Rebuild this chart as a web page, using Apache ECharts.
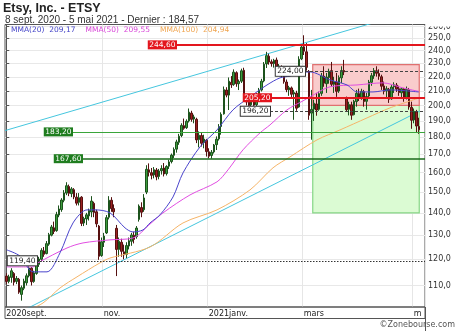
<!DOCTYPE html>
<html><head><meta charset="utf-8">
<script src="https://cdn.jsdelivr.net/npm/echarts@6/dist/echarts.min.js"></script>
<style>html,body{margin:0;padding:0;background:#fff}#c{width:460px;height:331px}</style>
</head><body><div id="c"></div>
<script>
// ---- price data (daily candles, 8 sept. 2020 -> 5 mai 2021) ----
const opens = [113.5,111.5,113.0,114.5,111.5,112.3,106.8,109.0,111.0,113.6,116.5,111.5,114.5,118.0,120.0,123.4,122.3,
126.2,130.0,133.2,132.0,139.0,141.5,146.0,149.5,152.8,149.2,151.2,147.5,145.0,147.5,135.4,137.2,138.6,140.4,144.5,140.5,134.0,121.5,
127.0,131.0,138.0,146.0,142.0,133.0,124.0,127.0,123.0,122.0,125.4,127.4,130.0,129.4,137.0,142.5,141.5,150.0,161.5,160.0,
158.8,161.4,158.0,161.0,162.5,159.5,163.5,166.0,169.5,173.0,177.0,181.0,187.0,185.8,190.0,195.0,191.2,191.0,178.6,181.0,176.8,178.2,
171.5,169.4,171.4,175.6,179.0,186.5,194.5,210.5,207.0,216.0,214.5,223.0,215.0,216.8,224.8,205.0,202.2,200.4,204.2,
200.5,206.6,210.5,217.0,229.6,235.6,231.2,229.8,232.6,223.6,227.6,221.2,216.2,210.6,212.0,207.8,208.4,199.0,233.5,
243.0,239.0,224.0,195.0,197.6,201.0,197.5,208.2,220.4,215.0,219.5,224.5,214.6,216.2,209.8,219.2,224.6,204.5,197.5,200.4,194.0,202.6,208.0,
205.5,209.4,202.8,206.4,216.0,220.6,224.4,222.4,220.0,213.4,209.8,211.0,204.5,212.8,214.0,211.4,208.6,211.2,205.5,210.8,
198.8,190.6,195.8,186.5];
const highs = [114.6,114.0,116.5,115.0,113.5,112.8,110.0,112.5,114.5,117.5,117.0,115.5,119.0,121.0,124.5,125.0,127.5,
131.0,134.5,136.0,140.5,143.5,147.0,151.0,155.0,153.8,152.5,152.0,149.5,149.5,148.0,138.2,140.0,142.0,148.0,145.3,141.5,134.5,129.0,
131.0,139.0,148.0,147.5,144.0,134.5,129.0,128.5,126.0,127.0,129.0,131.0,131.5,134.0,144.0,145.0,149.0,164.0,165.0,162.5,
163.0,162.5,162.0,164.0,165.2,164.0,167.0,170.5,174.0,178.5,182.0,188.5,191.5,191.0,198.0,196.5,194.0,192.0,183.5,182.5,181.5,179.0,
173.5,172.5,176.0,180.5,188.0,195.5,213.0,212.5,219.5,220.5,225.5,224.0,218.0,226.0,226.7,207.2,203.0,207.0,205.5,
208.5,212.0,218.5,231.0,239.0,237.5,233.0,233.5,234.5,229.5,228.5,223.0,218.0,213.5,213.0,210.6,210.0,235.5,244.6,
252.5,246.0,225.0,210.6,203.8,208.5,209.5,222.8,227.8,222.8,226.0,231.1,220.0,222.8,221.0,227.8,232.7,206.0,202.5,202.5,203.8,210.6,211.5,
211.4,210.6,208.5,217.7,222.8,226.5,227.8,225.5,221.5,216.5,213.2,212.0,214.0,216.0,215.5,213.5,212.5,212.0,213.0,212.0,
202.5,198.0,197.1,192.0];
const lows = [110.5,110.8,111.0,110.0,110.5,107.0,104.6,108.3,110.0,113.0,110.0,111.0,114.0,117.0,119.0,121.0,122.0,
125.5,129.5,130.5,131.5,138.0,140.5,145.0,148.5,148.0,147.5,146.5,143.5,143.5,134.0,134.0,134.5,136.5,138.0,138.0,133.5,119.8,121.0,
125.0,130.5,137.0,140.5,138.0,113.5,121.0,121.0,120.0,120.5,124.0,125.5,126.5,128.5,136.0,138.0,140.5,149.0,158.0,156.5,
157.0,156.0,156.5,159.0,158.0,158.5,162.0,165.0,168.0,171.0,175.5,180.0,184.5,185.0,189.0,189.5,188.5,176.5,174.0,174.5,173.5,168.8,
167.8,167.6,170.5,172.5,178.0,181.5,194.0,205.5,197.0,212.0,213.5,212.8,210.5,215.5,203.0,200.0,198.0,199.5,196.2,
199.5,205.0,209.5,216.0,226.5,229.0,227.5,226.8,222.0,222.0,219.5,215.0,209.0,206.5,205.5,190.7,196.5,198.5,232.5,
236.5,224.5,190.7,178.5,190.0,193.3,196.5,206.5,212.8,208.5,215.0,212.8,208.5,205.8,208.5,215.5,221.2,195.8,193.5,190.7,193.5,199.2,203.0,
203.8,199.2,197.2,205.5,213.5,218.5,220.1,217.8,210.6,207.5,204.5,201.7,203.8,208.5,209.2,206.5,205.5,202.5,204.0,197.2,
185.1,188.5,182.9,182.0];
const closes = [111.5,113.2,115.5,111.2,112.6,107.6,109.2,111.6,113.6,116.6,111.4,114.7,118.2,120.1,123.6,122.0,126.4,
130.2,133.6,131.6,139.2,141.8,146.1,149.6,153.2,149.4,151.6,147.6,144.6,147.2,135.2,137.4,139.1,141.1,145.6,140.2,135.0,121.2,127.2,
129.6,137.8,146.0,142.0,140.5,124.0,127.4,123.2,121.8,125.6,127.6,130.1,128.2,133.1,143.2,140.3,147.1,161.8,160.2,158.6,
161.6,157.8,160.9,162.2,159.3,163.3,165.8,169.6,172.8,177.2,180.6,187.2,185.4,189.8,195.6,191.0,192.5,178.4,181.2,176.4,178.9,171.6,
169.0,171.2,175.4,178.8,186.4,194.2,210.8,207.0,216.8,214.2,223.4,215.0,216.6,224.4,205.1,202.4,200.0,204.6,200.2,
206.6,210.4,216.8,229.4,236.0,231.0,229.8,232.4,223.4,227.8,221.0,216.4,210.8,212.2,207.6,208.8,198.2,233.2,242.8,
239.5,227.0,193.6,197.4,201.5,197.0,208.0,220.6,215.4,219.8,224.0,214.6,216.4,209.6,219.4,224.6,223.6,197.2,200.6,193.6,202.8,208.2,205.2,
209.6,202.6,206.0,216.2,220.8,224.6,222.6,220.4,213.2,209.6,211.4,204.2,212.6,214.2,211.2,208.8,211.4,205.2,211.0,199.0,
190.4,196.2,186.8,184.57];

// ---- moving averages: [trading-day index, value] ----
const ma20 = [[0.2,123.8],[5.5,121.3],[10.7,115.1],[16.3,115.1],[21.5,122.6],[26.7,135.4],[32.3,141.4],[35.5,141.4],[41.5,140.0],
[47.5,133.2],[50.7,131.4],[54.7,132.3],[57.5,135.4],[61.5,139.1],[66.7,147.6],[70.7,159.9],[77.5,174.3],[84.3,184.4],[90.7,197.1],
[97.5,205.8],[104.3,214.1],[109.5,219.2],[113.5,220.5],[117.5,222.9],[121.5,223.6],[129.5,217.7],[136.3,214.1],[140.3,209.2],
[146.7,209.2],[153.5,210.6],[165,209.17]];
const ma50 = [[0.2,117.0],[10.7,117.0],[12.7,118.6],[24.3,124.6],[30.7,126.7],[41.5,128.0],[50.7,128.8],[57.5,134.9],[62.7,140.0],
[73.5,148.6],[84.3,155.2],[88.7,161.5],[94.7,172.6],[101.5,182.6],[105.5,187.5],[112.3,197.1],[118.7,203.1],[121.5,205.8],
[129.5,212.8],[140.3,214.1],[150.7,215.6],[158.7,212.0],[165,209.55]];
const ma100 = [[7.5,100.7],[14.7,103.8],[21.5,109.1],[28.3,113.2],[37.5,118.6],[41.5,120.5],[57.5,125.0],[70.7,135.4],[84.3,141.4],
[97.5,151.1],[106.7,162.6],[113.5,168.6],[124.3,178.4],[133.5,184.4],[144.3,191.9],[153.5,198.4],[165,204.94]];

// ---- trend lines (two points each) ----
const trendUpper = [[-0.5,184.0],[150,265.2]];
const trendLower = [[5,100.5],[165.5,196.4]];

// ---- horizontal levels ----
const levelValues = [244.60, 205.20, 196.20, 224.00, 183.20, 167.60, 119.40];
const levelStart  = [68.3, 106.3, 105.5, 119.5, 26.7, 30.7, 12.3];
const levelKind   = ['red','red','dash','dash','green','dgreen','dot'];

// ---- zones ----
const zoneRed   = [122.6, 165.2, 200, 229];
const zoneGreen = [122.6, 165.2, 140, 200];

// ---- axes ----
const yTicks = [110,120,130,140,150,160,170,180,190,200,210,220,230,240,250,260];
const Y_MIN = 102.42, Y_MAX = 261.7;
const holidays = ['2020-11-26','2020-12-25','2021-01-01','2021-01-18','2021-02-15','2021-04-02'];
const xLabelDates = ['2020-09-08','2020-11-02','2021-01-04','2021-03-01','2021-05-03'];
const xLabelTexts = ['2020sept.','nov.','2021janv.','mars','m'];

function buildDays(start, end, skip) {
  const out = [];
  const d = new Date(start + 'T00:00:00Z'), e = new Date(end + 'T00:00:00Z');
  while (d <= e) {
    const wd = d.getUTCDay(), s = d.toISOString().slice(0, 10);
    if (wd !== 0 && wd !== 6 && skip.indexOf(s) < 0) out.push(s);
    d.setUTCDate(d.getUTCDate() + 1);
  }
  return out;
}
const days = buildDays('2020-09-08', '2021-05-05', holidays);
const categories = days.concat(['pad1', 'pad2']);
const labelMap = {};
xLabelDates.forEach((d, k) => { labelMap[days.indexOf(d)] = xLabelTexts[k]; });

const fmt2 = v => v.toFixed(2).replace('.', ',');
const FONT = 'DejaVu Sans';

const styleOf = {
  red:   {line: {color: '#e3161e', width: 2, type: 'solid'}, label: {backgroundColor: '#e3161e', color: '#fff'}},
  green: {line: {color: '#3aa53a', width: 1.2, type: 'solid'}, label: {backgroundColor: '#1f7d1f', color: '#fff'}},
  dgreen:{line: {color: '#1a6a1a', width: 1.6, type: 'solid'}, label: {backgroundColor: '#1f7d1f', color: '#fff'}},
  dash:  {line: {color: '#444', width: 1, type: [3, 2]}, label: {backgroundColor: '#fff', color: '#222', borderColor: '#333', borderWidth: 1}},
  dot:   {line: {color: '#333', width: 1, type: [1.5, 1.5]}, label: {backgroundColor: '#fff', color: '#222', borderColor: '#333', borderWidth: 1}}
};

const levelLines = levelValues.map((v, k) => {
  const st = styleOf[levelKind[k]];
  return [
    {coord: [levelStart[k], v], lineStyle: st.line,
     label: Object.assign({show: true, position: 'start', distance: 0, formatter: fmt2(v),
       fontSize: 7.5, fontFamily: FONT, padding: [1, 1.5, 0, 1.5]}, st.label)},
    {coord: [167.5, v]}
  ];
});

const candleData = opens.map((o, i) => [o, closes[i], lows[i], highs[i]]);
const lastOf = a => a[a.length - 1][1];
const maLast = {'MMA(20)': lastOf(ma20), 'MMA(50)': lastOf(ma50), 'MMA(100)': lastOf(ma100)};

const chart = echarts.init(document.getElementById('c'), null, {renderer: 'canvas'});
chart.setOption({
  animation: false,
  backgroundColor: '#fff',
  title: [
    {text: 'Etsy, Inc. - ETSY', left: 3, top: 2, padding: 0, textStyle: {fontSize: 12.5, fontWeight: 'bold', color: '#222', fontFamily: 'Liberation Sans'}},
    {text: '8 sept. 2020 - 5 mai 2021 - Dernier : 184,57', left: 5, top: 15, padding: 0, textStyle: {fontSize: 10, fontWeight: 'normal', color: '#333', fontFamily: 'Liberation Sans'}}
  ],
  legend: {
    top: 26.5, left: 5, padding: 0, itemWidth: 0, itemHeight: 0, itemGap: 4, selectedMode: false,
    textStyle: {fontSize: 7.5, fontFamily: FONT},
    data: [
      {name: 'MMA(20)', textStyle: {color: '#4545c8'}},
      {name: 'MMA(50)', textStyle: {color: '#d845d8'}},
      {name: 'MMA(100)', textStyle: {color: '#f0a550'}}
    ],
    formatter: n => n + '  ' + fmt2(maLast[n])
  },
  grid: {left: 5, right: 35, top: 24.5, bottom: 24, show: true, borderColor: '#555', borderWidth: 1, backgroundColor: '#fff'},
  xAxis: [
    {type: 'category', data: categories, boundaryGap: true,
     axisLine: {show: false}, axisTick: {show: false},
     axisLabel: {interval: i => labelMap[i] !== undefined, formatter: (v, i) => labelMap[i] || '',
       align: 'left', fontSize: 8, fontFamily: FONT, color: '#222', margin: 3},
     splitLine: {show: true, interval: i => labelMap[i] !== undefined && i > 0, lineStyle: {color: '#e6e6e6'}}},
    {type: 'value', min: -0.5, max: 167.5, show: false}
  ],
  yAxis: {
    type: 'log', logBase: 10, min: Y_MIN, max: Y_MAX, position: 'right',
    axisLine: {show: true, lineStyle: {color: '#555'}},
    axisTick: {show: true, length: 3, customValues: yTicks, lineStyle: {color: '#555'}},
    axisLabel: {customValues: yTicks, formatter: v => v.toFixed(1).replace('.', ','), fontSize: 8, fontFamily: FONT, color: '#333', margin: 3},
    splitLine: {show: true, lineStyle: {color: '#e8e8e8'}}
  },
  series: [
    {name: 'zones', type: 'line', xAxisIndex: 1, data: [[-10, 150]], symbol: 'none', z: 1, silent: true,
     markArea: {silent: true, data: [
       [{coord: [zoneGreen[0], zoneGreen[3]], itemStyle: {color: '#dbfbd3', borderColor: '#86d686', borderWidth: 1.2}}, {coord: [zoneGreen[1], zoneGreen[2]]}],
       [{coord: [zoneRed[0], zoneRed[3]], itemStyle: {color: '#f9cccc', borderColor: '#e07070', borderWidth: 1.2}}, {coord: [zoneRed[1], zoneRed[2]]}]
     ]}},
    {name: 'trendU', type: 'line', xAxisIndex: 1, data: trendUpper, symbol: 'none', z: 2, lineStyle: {color: '#45c6de', width: 1}},
    {name: 'trendL', type: 'line', xAxisIndex: 1, data: trendLower, symbol: 'none', z: 2, lineStyle: {color: '#45c6de', width: 1}},
    {name: 'ETSY', type: 'candlestick', data: candleData, barWidth: 2, z: 3,
     itemStyle: {color: '#3c9c3c', color0: '#9c2222', borderColor: '#1c521c', borderColor0: '#561010', borderWidth: 1}},
    {name: 'MMA(100)', type: 'line', xAxisIndex: 1, data: ma100, symbol: 'none', smooth: 0.3, z: 4, lineStyle: {color: '#f5b468', width: 1}, itemStyle: {color: '#f5b468'}},
    {name: 'MMA(50)', type: 'line', xAxisIndex: 1, data: ma50, symbol: 'none', smooth: 0.3, z: 4, lineStyle: {color: '#e24ee2', width: 1}, itemStyle: {color: '#e24ee2'}},
    {name: 'MMA(20)', type: 'line', xAxisIndex: 1, data: ma20, symbol: 'none', smooth: 0.3, z: 4, lineStyle: {color: '#4a44cc', width: 1}, itemStyle: {color: '#4a44cc'}},
    {name: 'levels', type: 'line', xAxisIndex: 1, data: [[-10, 150]], symbol: 'none', z: 5, silent: true,
     markLine: {silent: true, symbol: ['none', 'none'], data: levelLines}}
  ],
  graphic: [
    {type: 'rect', shape: {x: 426, y: 0, width: 34, height: 26.5}, style: {fill: '#fff'}, z: 100},
    {type: 'rect', shape: {x: 5, y: 307, width: 420, height: 11.5}, style: {fill: 'none', stroke: '#555', lineWidth: 1}, z: 100},
    {type: 'line', shape: {x1: 425.5, y1: 307, x2: 425.5, y2: 331}, style: {stroke: '#555', lineWidth: 1}, z: 100},
    {type: 'text', right: 5, bottom: 2, style: {text: '\u00a9Zonebourse.com', fontSize: 8, fontFamily: FONT, fill: '#555'}, z: 100}
  ]
});
</script></body></html>
